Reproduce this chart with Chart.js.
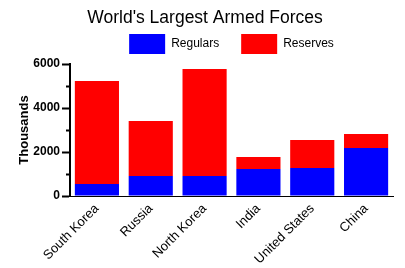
<!DOCTYPE html>
<html>
<head>
<meta charset="utf-8">
<script src="https://cdn.jsdelivr.net/npm/chart.js@4"></script>
<style>
  html, body { margin: 0; padding: 0; background: #fff; }
  #wrap { width: 405px; height: 268px; }
</style>
</head>
<body>
<div id="wrap"><canvas id="bar-chart"></canvas></div>
<script>
// data (thousands)
const countries = ['South Korea', 'Russia', 'North Korea', 'India', 'United States', 'China'];
const regulars = [550, 910, 910, 1230, 1270, 2180];
const reserves = [4680, 2500, 4860, 545, 1275, 640];

const font = 'Liberation Sans, Arial, sans-serif';

const ctx = document.getElementById('bar-chart');

const chart = new Chart(ctx, {
type: 'bar',
data: {
    labels: countries,
    datasets: [{
        label: 'Regulars',
        data: regulars,
        backgroundColor: '#0000ff',
        borderWidth: 0
    }, {
        label: 'Reserves',
        data: reserves,
        backgroundColor: '#ff0000',
        borderWidth: 0
    }]
},
options: {
    responsive: true,
    maintainAspectRatio: false,
    animation: false,
    layout: {
        padding: { left: 17, right: 12, top: 4, bottom: 0 }
    },
    datasets: {
        bar: { categoryPercentage: 0.82, barPercentage: 1 }
    },
    plugins: {
        title: {
            display: true,
            text: "World's Largest Armed Forces",
            color: '#000',
            font: { family: font, size: 17.5, weight: 'normal' },
            padding: { top: 4, bottom: -17 }
        },
        legend: {
            display: true,
            fullSize: false, // centred over the plot, not the canvas
            labels: {
                color: '#000',
                boxWidth: 36,
                boxHeight: 20,
                padding: 22,
                font: { family: font, size: 12 }
            }
        },
        tooltip: { enabled: false }
    },
    scales: {
    x: {
        stacked: true,
        afterFit: (scale) => { scale.height = 72; },
        grid: { display: false },
        border: { color: '#000', width: 1 },
        ticks: {
            color: '#000',
            padding: -3,
            maxRotation: 45,
            minRotation: 45,
            font: { family: font, size: 13 }
        }
    },
    y: {
        stacked: true,
        min: 0,
        max: 6000,
        afterFit: (scale) => { scale.width = 53; },
        title: {
            display: true,
            text: 'Thousands',
            color: '#000',
            font: { family: font, size: 13, weight: 'bold' },
            padding: 0
        },
        border: { color: '#000', width: 2 },
        grid: {
            drawOnChartArea: false,
            color: '#000',
            tickLength: 8,
            tickWidth: 2,
            // short marks at the odd thousands
            tickBorderDash: (c) => (c.tick && c.tick.value % 2000) ? [0, 4, 4, 100] : []
        },
        ticks: {
            stepSize: 1000,
            color: '#000',
            padding: 2,
            font: { family: font, size: 12, weight: 'bold' },
            callback: (v) => v % 2000 === 0 ? v : ''
        }
    }
    }
}
});
</script>
</body>
</html>
